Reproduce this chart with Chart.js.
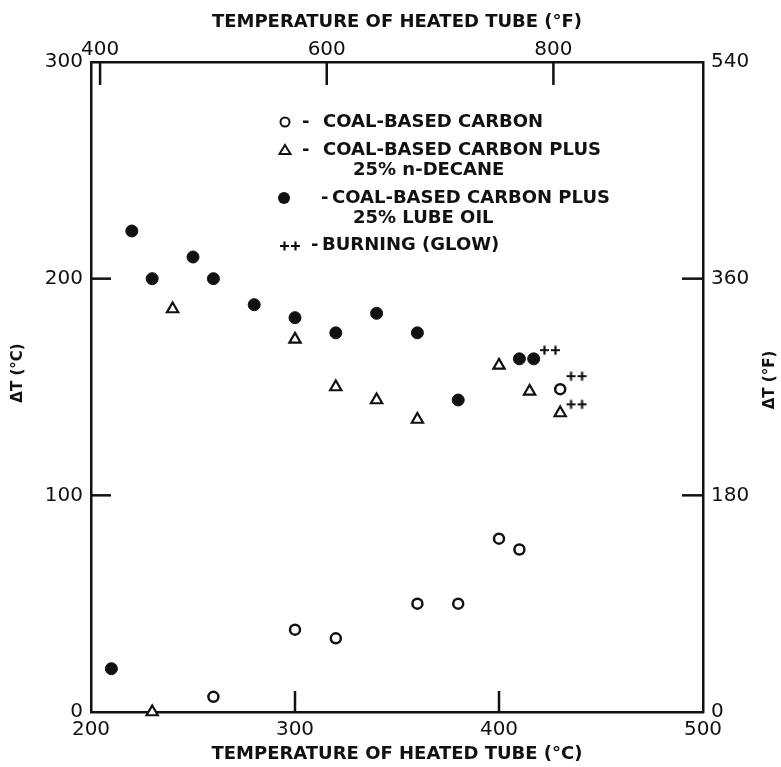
<!DOCTYPE html>
<html>
<head>
<meta charset="utf-8">
<script src="https://cdn.jsdelivr.net/npm/chart.js@4.4.1/dist/chart.umd.min.js"></script>
<style>
  html, body { margin: 0; padding: 0; background: #fff; }
  #wrap { width: 781px; height: 767px; }
</style>
</head>
<body>
<div id="wrap"><canvas id="grafico" width="781" height="767"></canvas></div>
<script>
// valores dos eixos
const ticksC = [200, 300, 400, 500];       // temperatura do tubo (°C), eixo de baixo
const ticksF = [400, 600, 800];            // temperatura do tubo (°F), eixo de cima
const ticksDtC = [0, 100, 200, 300];       // ΔT (°C), eixo esquerdo
const ticksDtF = [0, 180, 360, 540];       // ΔT (°F), eixo direito

// carvão puro (círculos abertos)
const coalTemp = [260, 300, 320, 360, 380, 400, 410, 430];
const coalDT   = [7, 38, 34, 50, 50, 80, 75, 149];

// carvão + 25% n-decano (triângulos)
const decaneTemp = [230, 240, 300, 320, 340, 360, 400, 415, 430];
const decaneDT   = [0, 186, 172, 150, 144, 135, 160, 148, 138];

// carvão + 25% óleo lubrificante (círculos cheios)
const lubeTemp = [210, 220, 230, 250, 260, 280, 300, 320, 340, 360, 380, 410, 417];
const lubeDT   = [20, 222, 200, 210, 200, 188, 182, 175, 184, 175, 144, 163, 163];

// queima (brilho) "++"
const burnTemp = [425, 438, 438];
const burnDT   = [167, 155, 142];

const INK = '#111';
const toF = c => c * 1.8 + 32;

Chart.defaults.font.family = "'DejaVu Sans', sans-serif";
Chart.defaults.color = INK;

function pares(xs, ys) {
    return xs.map((x, i) => ({ x: x, y: ys[i] }));
}

// marcador "++" desenhado num canvas pequeno
function fazerMaisMais() {
    const c = document.createElement('canvas');
    c.width = 22; c.height = 12;
    const g = c.getContext('2d');
    g.strokeStyle = INK;
    g.lineWidth = 2.2;
    [5.5, 16.5].forEach(cx => {
        g.beginPath();
        g.moveTo(cx - 4.5, 6); g.lineTo(cx + 4.5, 6);
        g.moveTo(cx, 1.5); g.lineTo(cx, 10.5);
        g.stroke();
    });
    return c;
}
const maisMais = fazerMaisMais();

function eixo(pos, min, max, valores, extra) {
    return Object.assign({
        type: 'linear',
        position: pos,
        min: min,
        max: max,
        afterBuildTicks: s => { s.ticks = valores.map(v => ({ value: v })); },
        grid: { display: false, drawTicks: false },
        border: { display: true, color: INK, width: 2.5 },
        ticks: { font: { size: 20 }, color: INK, autoSkip: false, maxRotation: 0 }
    }, extra);
}

// marcas internas dos eixos + títulos verticais
const marcasInternas = {
    id: 'marcasInternas',
    afterDraw(chart) {
        const { ctx, chartArea: a, scales } = chart;
        ctx.save();
        ctx.strokeStyle = INK;
        ctx.lineWidth = 2.5;
        const linha = (x1, y1, x2, y2) => { ctx.beginPath(); ctx.moveTo(x1, y1); ctx.lineTo(x2, y2); ctx.stroke(); };
        ticksC.slice(1, -1).forEach(v => { const p = scales.x.getPixelForValue(v); linha(p, a.bottom, p, a.bottom - 21); });
        ticksF.forEach(v => { const p = scales.x2.getPixelForValue(v); linha(p, a.top, p, a.top + 23); });
        ticksDtC.slice(1, -1).forEach(v => { const p = scales.y.getPixelForValue(v); linha(a.left, p, a.left + 20, p); });
        ticksDtF.slice(1, -1).forEach(v => { const p = scales.y2.getPixelForValue(v); linha(a.right, p, a.right - 21, p); });

        // títulos dos eixos verticais (lidos de baixo para cima)
        ctx.fillStyle = INK;
        ctx.font = "bold 15px 'DejaVu Sans'";
        ctx.textAlign = 'center';
        ctx.textBaseline = 'middle';
        const vertical = (txt, x, y) => {
            ctx.save();
            ctx.translate(x, y);
            ctx.rotate(-Math.PI / 2);
            ctx.fillText(txt, 0, 0);
            ctx.restore();
        };
        vertical('ΔT (°C)', 18, 373);
        vertical('ΔT (°F)', 770, 380);
        ctx.restore();
    }
};

// legenda dentro do gráfico
const legendaDesenhada = {
    id: 'legendaDesenhada',
    afterDraw(chart) {
        const ctx = chart.ctx;
        ctx.save();
        ctx.fillStyle = INK;
        ctx.strokeStyle = INK;
        ctx.font = "bold 18px 'DejaVu Sans'";
        ctx.textAlign = 'left';
        ctx.textBaseline = 'middle';

        // círculo aberto
        ctx.lineWidth = 2;
        ctx.beginPath(); ctx.arc(285, 122, 4.5, 0, Math.PI * 2); ctx.stroke();
        ctx.fillText('-', 302, 122);
        ctx.fillText('COAL-BASED CARBON', 323, 122);

        // triângulo
        ctx.beginPath();
        ctx.moveTo(285, 145); ctx.lineTo(290.5, 154); ctx.lineTo(279.5, 154); ctx.closePath();
        ctx.stroke();
        ctx.fillText('-', 302, 150);
        ctx.fillText('COAL-BASED CARBON PLUS', 323, 150);
        ctx.fillText('25% n-DECANE', 353, 170);

        // círculo cheio
        ctx.beginPath(); ctx.arc(284, 198, 6, 0, Math.PI * 2); ctx.fill();
        ctx.fillText('-', 321, 198);
        ctx.fillText('COAL-BASED CARBON PLUS', 332, 198);
        ctx.fillText('25% LUBE OIL', 353, 218);

        // queima
        ctx.drawImage(maisMais, 279, 240);
        ctx.fillText('-', 311, 245);
        ctx.fillText('BURNING (GLOW)', 322, 245);
        ctx.restore();
    }
};

const ctx = document.getElementById('grafico');
new Chart(ctx, {
    type: 'scatter',
    data: {
        datasets: [
            { label: 'COAL-BASED CARBON', data: pares(coalTemp, coalDT), pointStyle: 'circle', pointRadius: 5, backgroundColor: '#fff', borderColor: INK, borderWidth: 2.5, clip: false },
            { label: 'COAL-BASED CARBON PLUS 25% n-DECANE', data: pares(decaneTemp, decaneDT), pointStyle: 'triangle', pointRadius: 6.5, backgroundColor: '#fff', borderColor: INK, borderWidth: 2.2, clip: false },
            { label: 'COAL-BASED CARBON PLUS 25% LUBE OIL', data: pares(lubeTemp, lubeDT), pointStyle: 'circle', pointRadius: 6, backgroundColor: INK, borderColor: INK, borderWidth: 1, clip: false },
            { label: 'BURNING (GLOW)', data: pares(burnTemp, burnDT), pointStyle: maisMais, pointRadius: 6, clip: false }
        ]
    },
    options: {
        responsive: false,
        animation: false,
        events: [],
        layout: { padding: 0 },
        plugins: { legend: { display: false }, tooltip: { enabled: false } },
        scales: {
            x: eixo('bottom', 200, 500, ticksC, {
                ticks: { font: { size: 20 }, color: INK, autoSkip: false, maxRotation: 0, padding: 6 },
                title: { display: true, text: 'TEMPERATURE OF HEATED TUBE (°C)', color: INK, font: { size: 18, weight: 'bold' }, padding: { top: 0, bottom: 2 } },
                afterFit: s => { s.height = 55; }
            }),
            x2: eixo('top', toF(200), toF(500), ticksF, {
                ticks: { font: { size: 20 }, color: INK, autoSkip: false, maxRotation: 0, padding: 0 },
                title: { display: true, text: 'TEMPERATURE OF HEATED TUBE (°F)', color: INK, font: { size: 18, weight: 'bold' }, padding: { top: 12, bottom: 0 } },
                afterFit: s => { s.height = 62; }
            }),
            y: eixo('left', 0, 300, ticksDtC, {
                ticks: { font: { size: 20 }, color: INK, autoSkip: false, padding: 8 },
                afterFit: s => { s.width = 91; }
            }),
            y2: eixo('right', 0, 540, ticksDtF, {
                ticks: { font: { size: 20 }, color: INK, autoSkip: false, padding: 8 },
                afterFit: s => { s.width = 78; }
            })
        }
    },
    plugins: [marcasInternas, legendaDesenhada]
});
</script>
</body>
</html>
